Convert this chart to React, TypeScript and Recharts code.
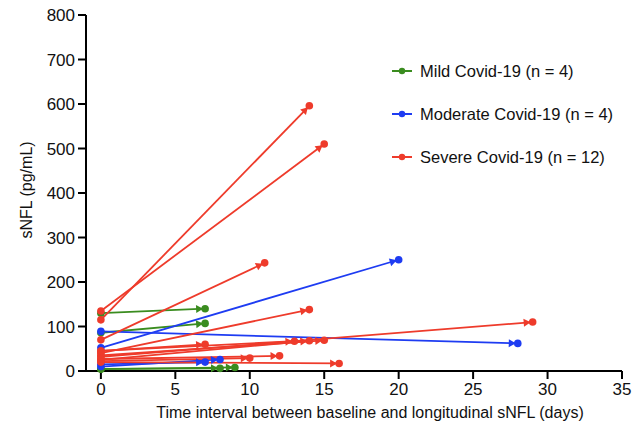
import React from 'react';
import { LineChart, Line, XAxis, YAxis, Label } from 'recharts';

// Mild Covid-19 (n = 4)
const mildDays = [7, 7, 8, 9];
const mildBaseline = [130, 86, 5, 4];
const mildFollowUp = [140, 107, 6, 8];

// Moderate Covid-19 (n = 4)
const moderateDays = [20, 28, 7, 8];
const moderateBaseline = [52, 89, 15, 10];
const moderateFollowUp = [250, 62, 20, 26];

// Severe Covid-19 (n = 12)
const severeDays = [14, 15, 11, 14, 29, 13, 14, 15, 7, 10, 12, 16];
const severeBaseline = [115, 135, 70, 40, 32, 45, 25, 35, 45, 22, 27, 20];
const severeFollowUp = [596, 510, 243, 138, 110, 67, 68, 69, 60, 29, 34, 17];

const xTicks = [0, 5, 10, 15, 20, 25, 30, 35];
const yTicks = [0, 100, 200, 300, 400, 500, 600, 700, 800];

const groups = [
  { name: 'Mild Covid-19 (n = 4)', color: '#3A8C1F', days: mildDays, base: mildBaseline, follow: mildFollowUp },
  { name: 'Moderate Covid-19 (n = 4)', color: '#1E3CF2', days: moderateDays, base: moderateBaseline, follow: moderateFollowUp },
  { name: 'Severe Covid-19 (n = 12)', color: '#EE3B2B', days: severeDays, base: severeBaseline, follow: severeFollowUp },
];

const FONT = '"Liberation Sans", Arial, Helvetica, sans-serif';

const makeDot = (color: string, id: string) => (props: any) => {
  const { cx, cy, index, points } = props;
  if (cx == null || cy == null) return <g key={`${id}-${index}`} />;
  if (index === 0) {
    return <circle key={`${id}-${index}`} cx={cx} cy={cy} r={3.8} fill={color} />;
  }
  let ang = 0;
  const p0 = points && points[0];
  if (p0) ang = Math.atan2(cy - p0.y, cx - p0.x);
  const c = Math.cos(ang);
  const s = Math.sin(ang);
  const tipX = cx - 2 * c;
  const tipY = cy - 2 * s;
  const bx = cx - 9 * c;
  const by = cy - 9 * s;
  const w = 4;
  const pts = `${tipX},${tipY} ${bx - w * s},${by + w * c} ${bx + w * s},${by - w * c}`;
  return (
    <g key={`${id}-${index}`}>
      <polygon points={pts} fill={color} />
      <circle cx={cx} cy={cy} r={3.8} fill={color} />
    </g>
  );
};

export default function App() {
  const lines: React.ReactNode[] = [];
  groups.forEach((g, gi) => {
    g.days.forEach((d, i) => {
      const data = [
        { x: 0, y: g.base[i] },
        { x: d, y: g.follow[i] },
      ];
      const id = `g${gi}-${i}`;
      lines.push(
        <Line
          key={id}
          data={data}
          dataKey="y"
          type="linear"
          stroke={g.color}
          strokeWidth={1.8}
          dot={makeDot(g.color, id)}
          activeDot={false}
          isAnimationActive={false}
          legendType="none"
        />
      );
    });
  });

  return (
    <div style={{ position: 'absolute', left: 0, top: 0, width: 640, height: 429, background: '#fff', fontFamily: FONT }}>
      <LineChart width={640} height={429} margin={{ top: 15, right: 18, bottom: 0, left: 0 }}>
        <XAxis
          dataKey="x"
          type="number"
          domain={[-1, 35]}
          ticks={xTicks}
          allowDataOverflow
          height={58}
          tickSize={8}
          tickMargin={4}
          stroke="#000"
          strokeWidth={2}
          tick={{ fill: '#111', fontSize: 17, fontFamily: FONT }}
          tickLine={{ stroke: '#000', strokeWidth: 2 }}
        >
          <Label
            content={(p: any) => {
              return (
                <text x={370} y={418} textAnchor="middle" fontSize={16} fontFamily={FONT} fill="#111">
                  Time interval between baseline and longitudinal sNFL (days)
                </text>
              );
            }}
          />
        </XAxis>
        <YAxis
          type="number"
          domain={[0, 800]}
          ticks={yTicks}
          width={86}
          tickSize={8}
          tickMargin={3}
          stroke="#000"
          strokeWidth={2}
          tick={{ fill: '#111', fontSize: 17, fontFamily: FONT }}
          tickLine={{ stroke: '#000', strokeWidth: 2 }}
        >
          <Label
            content={() => (
              <text
                x={26}
                y={190}
                transform="rotate(-90, 26, 190)"
                textAnchor="middle"
                dominantBaseline="central"
                fontSize={16}
                fontFamily={FONT}
                fill="#111"
              >
                sNFL (pg/mL)
              </text>
            )}
          />
        </YAxis>
        {lines}
      </LineChart>
      <div style={{ position: 'absolute', left: 390, top: 60, width: 250 }}>
        {groups.map((g, i) => (
          <div key={g.name} style={{ position: 'absolute', left: 0, top: [0, 43, 86][i], height: 22, display: 'flex', alignItems: 'center', whiteSpace: 'nowrap' }}>
            <svg width={26} height={22} style={{ display: 'block' }}>
              <line x1={2} y1={11} x2={22} y2={11} stroke={g.color} strokeWidth={2} />
              <circle cx={12} cy={11} r={3.2} fill={g.color} />
            </svg>
            <span style={{ marginLeft: 4, fontSize: 16.5, color: '#111', fontFamily: FONT }}>{g.name}</span>
          </div>
        ))}
      </div>
    </div>
  );
}
